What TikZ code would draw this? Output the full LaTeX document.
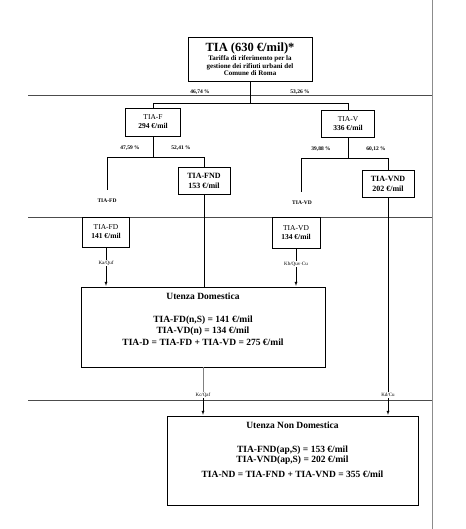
\documentclass[tikz,border=0pt]{standalone}
\usepackage{fontspec}
\setmainfont{Liberation Serif}
\usetikzlibrary{positioning}
\usetikzlibrary{calc,arrows}

\begin{document}
\begin{tikzpicture}
	[   x=1pt, y=-1pt,
	    box/.style={draw=black,fill=white,align=center,inner sep=1pt,font=\fontsize{7.5}{9}\selectfont},
	    tag/.style={inner sep=1pt,font=\bfseries\fontsize{5.5}{6}\selectfont},
	    rule/.style={draw=black!70,line width=0.7pt},
	]
	\tikzset{normal arrow/.style={draw,-latex,shorten >=1pt}}
	\useasboundingbox (0,0) rectangle (465,529);
	
	% page rules
	\foreach \y in {95,217,400}
		\draw[rule] (28,\y) -- (432,\y);
	\draw[rule,draw=black!45] (432,0) -- (432,529);
	
	% top
	\node[box,font=\bfseries\fontsize{7}{7.3}\selectfont,minimum width=124,minimum height=44] (tia) at (250,59)
		{{\fontsize{12.5}{13}\selectfont TIA (630 €/mil)*}\\[1pt]
		 Tariffa di riferimento per la\\gestione dei rifiuti urbani del\\Comune di Roma};
	\coordinate (j0) at (250,103);
	\node[tag] (p-fix) at (200,92) {46,74 \%};
	\node[tag] (p-var) at (300,92) {53,26 \%};
	
	% second level
	\node[box,minimum width=55,minimum height=28] (tiaf) at (153,122) {TIA-F\\\textbf{294 €/mil}};
	\node[box,minimum width=53,minimum height=27] (tiav) at (348,123.5) {TIA-V\\\textbf{336 €/mil}};
	\draw (tia.south) -- (j0) -| (tiaf.north);
	\draw (j0) -| (tiav.north);
	
	% third level
	\coordinate (j1) at (153,157);
	\coordinate (j2) at (348,158);
	\coordinate (fd-end) at (107,190);
	\coordinate (vd-end) at (301,192);
	\node[box,font=\bfseries\fontsize{8}{10}\selectfont,minimum width=52,minimum height=27] (tiafnd) at (204,180.5) {TIA-FND\\153 €/mil};
	\node[box,font=\bfseries\fontsize{8}{10}\selectfont,minimum width=52,minimum height=27] (tiavnd) at (388,183.5) {TIA-VND\\202 €/mil};
	\node[tag] (p-fd) at (130,148) {47,59 \%};
	\node[tag] (p-fnd) at (181,148) {52,41 \%};
	\node[tag] (p-vd) at (321,149) {39,88 \%};
	\node[tag] (p-vnd) at (376,149) {60,12 \%};
	\draw (tiaf.south) -- (j1) -| (fd-end);
	\draw (j1) -| (tiafnd.north);
	\draw (tiav.south) -- (j2) -| (vd-end);
	\draw (j2) -| (tiavnd.north);
	\node[tag] (fd-lab) at (107,201) {TIA-FD};
	\node[tag] (vd-lab) at (302,203) {TIA-VD};
	
	% domestic parts
	\node[box,minimum width=47,minimum height=30] (tiafd) at (106,232) {TIA-FD\\\textbf{141 €/mil}};
	\node[box,minimum width=48,minimum height=31] (tiavd) at (296,232.5) {TIA-VD\\\textbf{134 €/mil}};
	\node[tag,font=\fontsize{5}{6}\selectfont] (ka) at (106,263) {Ka/Quf};
	\node[tag,font=\fontsize{5}{6}\selectfont] (kb) at (296,264) {Kb/Quv·Cu};
	
	\node[box,minimum width=244,minimum height=80] (dom) at (203,327) {};
	\node[align=center,font=\bfseries\fontsize{9.5}{11}\selectfont,below=3pt of dom.north] (dom-txt)
		{Utenza Domestica\\[12pt]
		 TIA-FD(n,S) = 141 €/mil\\TIA-VD(n) = 134 €/mil\\[1pt]
		 TIA-D = TIA-FD + TIA-VD = 275 €/mil};
	\draw (tiafd.south) -- (ka.north);
	\path[normal arrow] (ka.south) -- (ka.south |- dom.north);
	\draw (tiavd.south) -- (kb.north);
	\path[normal arrow] (kb.south) -- (kb.south |- dom.north);
	\draw (tiafnd.south) -- (tiafnd.south |- dom.north);
	
	% non domestic
	\node[tag,font=\fontsize{5}{6}\selectfont] (kc) at (203,395) {Kc/Qaf};
	\node[tag,font=\fontsize{5}{6}\selectfont] (kd) at (388,395) {Kd/Cu};
	\node[box,minimum width=251,minimum height=89] (nondom) at (292.5,460.5) {};
	\node[align=center,font=\bfseries\fontsize{9.5}{10.5}\selectfont,below=3pt of nondom.north] (nondom-txt)
		{Utenza Non Domestica\\[13pt]
		 TIA-FND(ap,S) = 153 €/mil\\TIA-VND(ap,S) = 202 €/mil\\[4pt]
		 TIA-ND = TIA-FND + TIA-VND = 355 €/mil};
	\draw[black!50] (dom.south) -- (kc.north);
	\path[normal arrow] (kc.south) -- (kc.south |- nondom.north);
	\draw (tiavnd.south) -- (kd.north);
	\path[normal arrow] (kd.south) -- (kd.south |- nondom.north);
\end{tikzpicture}
\end{document}
